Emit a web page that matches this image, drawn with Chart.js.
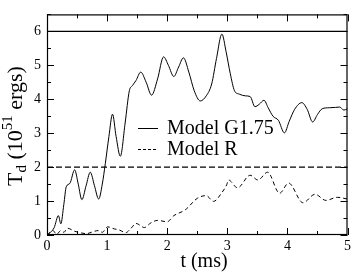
<!DOCTYPE html>
<html>
<head>
<meta charset="utf-8">
<script src="https://cdn.jsdelivr.net/npm/chart.js@4.4.1/dist/chart.umd.min.js"></script>
<style>
  html, body { margin: 0; padding: 0; background: #fff; }
  #wrap { width: 354px; height: 272px; }
</style>
</head>
<body>
<div id="wrap"><canvas id="chart" width="354" height="272"></canvas></div>
<script>
// Model G1.75 (solid)
const timeG = [0, 0.06, 0.12, 0.19, 0.23, 0.28, 0.32, 0.38, 0.46, 0.52, 0.58, 0.65, 0.72, 0.79, 0.86, 0.92, 0.97, 1.03, 1.09, 1.15,
  1.22, 1.3, 1.37, 1.42, 1.48, 1.56, 1.65, 1.74, 1.84, 1.94, 2.02, 2.11, 2.19, 2.27, 2.36, 2.45, 2.55, 2.65, 2.74, 2.82,
  2.91, 2.98, 3.05, 3.12, 3.2, 3.3, 3.38, 3.46, 3.53, 3.61, 3.68, 3.76, 3.85, 3.95, 4.03, 4.12, 4.24, 4.33, 4.42, 4.5,
  4.58, 4.7, 4.8, 4.87, 4.94, 5.0];
const tdG = [0, 0.08, 0.22, 0.57, 0.33, 0.9, 1.42, 1.52, 1.92, 1.5, 1.04, 1.45, 1.85, 1.45, 1.06, 1.5, 2.1, 2.9, 3.56, 2.9,
  2.32, 3.3, 4.25, 4.4, 4.55, 4.8, 4.5, 4.12, 4.6, 5.25, 5.0, 4.67, 4.95, 5.22, 4.8, 4.25, 3.95, 4.1, 4.45, 5.2,
  5.92, 5.4, 4.75, 4.25, 4.15, 4.1, 4.08, 3.78, 3.85, 3.97, 3.75, 3.5, 3.38, 3.01, 3.35, 3.7, 3.9, 3.7, 3.33, 3.55,
  3.72, 3.75, 3.76, 3.77, 3.68, 3.72];

// Model R (dashed)
const timeR = [0, 0.1, 0.16, 0.23, 0.28, 0.34, 0.46, 0.57, 0.66, 0.74, 0.85, 0.92, 1.01, 1.12, 1.2, 1.31, 1.4, 1.48, 1.62, 1.73,
  1.84, 2.0, 2.11, 2.3, 2.5, 2.65, 2.77, 2.91, 2.99, 3.02, 3.17, 3.38, 3.51, 3.67, 3.87, 4.02, 4.26, 4.46, 4.64, 4.83, 5.0];
const tdR = [0, 0.13, 0.02, 0.13, 0.08, 0.2, 0.11, 0.06, 0.04, 0.08, 0.13, 0.08, 0.24, 0.18, 0.15, 0.07, 0.2, 0.34, 0.22, 0.36,
  0.43, 0.39, 0.57, 0.74, 1.08, 1.16, 0.99, 1.25, 1.48, 1.62, 1.39, 1.76, 1.62, 1.85, 1.23, 1.53, 0.95, 1.2, 1.02, 1.11, 1.06];

// reference levels
const refG = 6;
const refR = 2;

const xTicks = [0, 1, 2, 3, 4, 5];
const yTicks = [0, 1, 2, 3, 4, 5, 6];

const serif = "'Liberation Serif', 'DejaVu Serif', serif";

function pts(xs, ys) {
  return xs.map((x, i) => ({ x: x, y: ys[i] }));
}

// frame, inward ticks, legend and titles
const decor = {
  id: 'decor',
  afterDraw(chart) {
    const ctx = chart.ctx;
    const a = chart.chartArea;
    const xs = chart.scales.x, ys = chart.scales.y;
    ctx.save();
    ctx.strokeStyle = '#000';
    ctx.lineWidth = 1.2;
    ctx.strokeRect(a.left + 0.5, a.top + 0.5, a.right - a.left - 1, a.bottom - a.top - 1);

    ctx.lineWidth = 1;
    ctx.beginPath();
    for (let v = 0; v <= 5.001; v += 0.5) {
      const p = Math.round(xs.getPixelForValue(v)) + 0.5;
      const len = Number.isInteger(v) ? 7 : 4;
      ctx.moveTo(p, a.bottom); ctx.lineTo(p, a.bottom - len);
      ctx.moveTo(p, a.top); ctx.lineTo(p, a.top + len);
    }
    for (let v = 0; v <= 6.501; v += 0.5) {
      const p = Math.round(ys.getPixelForValue(v)) + 0.5;
      const len = Number.isInteger(v) ? 7 : 4;
      ctx.moveTo(a.left, p); ctx.lineTo(a.left + len, p);
      ctx.moveTo(a.right, p); ctx.lineTo(a.right - len, p);
    }
    ctx.stroke();

    // legend
    ctx.fillStyle = '#000';
    ctx.font = '20px ' + serif;
    ctx.textBaseline = 'middle';
    ctx.textAlign = 'left';
    ctx.beginPath();
    ctx.moveTo(138, 128.5); ctx.lineTo(158, 128.5);
    ctx.stroke();
    ctx.setLineDash([3, 2]);
    ctx.beginPath();
    ctx.moveTo(138, 149.5); ctx.lineTo(158, 149.5);
    ctx.stroke();
    ctx.setLineDash([]);
    ctx.fillText('Model G1.75', 167, 129);
    ctx.fillText('Model R', 167, 150);

    // x title
    ctx.textAlign = 'center';
    ctx.font = '20px ' + serif;
    ctx.fillText('t (ms)', 204, 262);

    // y title with sub/superscript
    const parts = [
      ['T', 22, 0], ['d', 15, 6], [' (10', 22, 0], ['51', 15, -8], [' ergs)', 22, 0]
    ];
    let total = 0;
    parts.forEach(p => { ctx.font = p[1] + 'px ' + serif; total += ctx.measureText(p[0]).width; });
    ctx.translate(16, 126);
    ctx.rotate(-Math.PI / 2);
    ctx.textAlign = 'left';
    let cx = -total / 2;
    parts.forEach(p => {
      ctx.font = p[1] + 'px ' + serif;
      ctx.fillText(p[0], cx, p[2]);
      cx += ctx.measureText(p[0]).width;
    });
    ctx.restore();
  }
};

new Chart(document.getElementById('chart'), {
  type: 'line',
  data: {
    datasets: [
      {
        label: 'Model G1.75',
        data: pts(timeG, tdG),
        borderColor: '#000',
        borderWidth: 1,
        pointRadius: 0,
        cubicInterpolationMode: 'monotone'
      },
      {
        label: 'Model R',
        data: pts(timeR, tdR),
        borderColor: '#000',
        borderWidth: 1,
        borderDash: [4, 3],
        pointRadius: 0,
        cubicInterpolationMode: 'monotone'
      },
      {
        label: 'ref G',
        data: pts([0, 5], [refG, refG]),
        borderColor: '#000',
        borderWidth: 1.2,
        pointRadius: 0
      },
      {
        label: 'ref R',
        data: pts([0, 5], [refR, refR]),
        borderColor: '#000',
        borderWidth: 1.2,
        borderDash: [6, 3],
        pointRadius: 0
      }
    ]
  },
  options: {
    responsive: false,
    animation: false,
    layout: { padding: { top: 2, right: 4, left: 0, bottom: 0 } },
    plugins: { legend: { display: false }, tooltip: { enabled: false } },
    scales: {
      x: {
        type: 'linear',
        min: 0, max: 5,
        afterFit: s => { s.height = 37; },
        afterBuildTicks: s => { s.ticks = xTicks.map(v => ({ value: v })); },
        grid: { display: false, drawTicks: false },
        border: { display: false },
        ticks: { color: '#000', padding: 3, maxRotation: 0, font: { family: serif, size: 14 } }
      },
      y: {
        type: 'linear',
        min: 0, max: 6.5,
        afterFit: s => { s.width = 47; },
        afterBuildTicks: s => { s.ticks = yTicks.map(v => ({ value: v })); },
        grid: { display: false, drawTicks: false },
        border: { display: false },
        ticks: { color: '#000', padding: 6, font: { family: serif, size: 14 } }
      }
    }
  },
  plugins: [decor]
});
</script>
</body>
</html>
